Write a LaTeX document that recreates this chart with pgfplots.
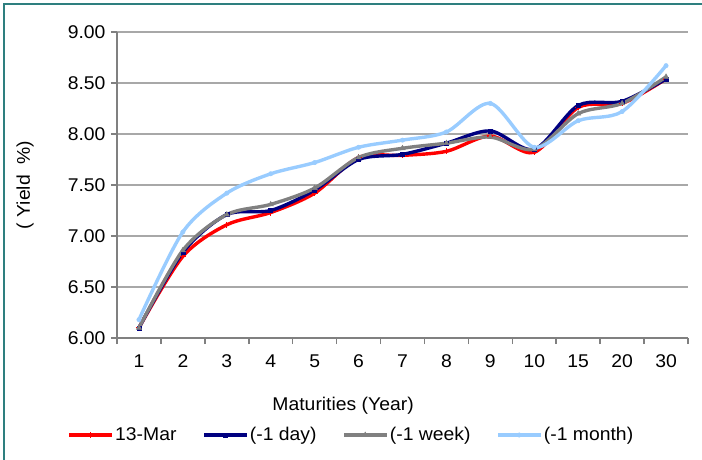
\documentclass[border=0pt]{standalone}
\usepackage{pgfplots}
\pgfplotsset{compat=1.18}
\usepackage{pgfplotstable}
\usepackage{fontspec}
\setmainfont{Liberation Sans}[FakeStretch=1.05]
\definecolor{cred}{HTML}{FF0000}
\definecolor{cnavy}{HTML}{000080}
\definecolor{cgray}{HTML}{808080}
\definecolor{clblue}{HTML}{99CCFF}
\definecolor{cframe}{HTML}{2E7F7F}
\definecolor{caxis}{HTML}{808080}
\definecolor{cgrid}{HTML}{A8A8A8}
\newcommand{\tf}{\fontsize{18.5}{22}\selectfont}
\pgfplotstableread{
x mar day week month
0  6.10 6.10 6.10 6.18
1  6.80 6.84 6.86 7.04
2  7.11 7.21 7.21 7.42
3  7.23 7.25 7.31 7.61
4  7.42 7.45 7.47 7.72
5  7.77 7.75 7.77 7.87
6  7.79 7.80 7.86 7.94
7  7.83 7.91 7.91 8.02
8  7.98 8.03 7.97 8.30
9  7.82 7.85 7.85 7.87
10 8.26 8.28 8.20 8.13
11 8.30 8.32 8.30 8.22
12 8.54 8.54 8.56 8.67
}\yields
\begin{document}
\begin{tikzpicture}
\path[use as bounding box] (-117bp,-122bp) rectangle (585bp,338bp);
\draw[cframe, line width=2bp] (-113bp,-122bp) -- (-113bp,334bp) -- (585bp,334bp);
\begin{axis}[
  at={(0,0)}, anchor=south west,
  scale only axis, width=571bp, height=306bp,
  xmin=-0.5, xmax=12.5, ymin=6, ymax=9,
  axis x line*=bottom, axis y line*=left,
  axis line style={caxis, line width=2bp, -},
  xtick={0,...,12},
  xticklabels={1,2,3,4,5,6,7,8,9,10,15,20,30},
  major x tick style={draw=none},
  minor xtick={-0.5,0.5,...,12.5},
  minor tick length=6bp,
  minor x tick style={caxis, line width=1.5bp},
  ytick={6,6.5,...,9},
  major tick length=6bp,
  major y tick style={caxis, line width=1.5bp},
  tick align=outside,
  ymajorgrids,
  grid style={cgrid, line width=1.5bp},
  /pgf/number format/assume math mode=true,
  yticklabel style={/pgf/number format/fixed, /pgf/number format/fixed zerofill, /pgf/number format/precision=2, font=\tf, xshift=-2bp},
  xticklabel style={font=\tf, yshift=-7bp},
  xlabel={Maturities (Year)},
  every axis x label/.style={at={(axis description cs:0.396,0)}, anchor=center, yshift=-68bp, font=\tf},
  ylabel={( Yield\ \ \%)},
  every axis y label/.style={at={(axis description cs:-0.161,0.5)}, anchor=center, rotate=90, font=\tf},
  legend columns=4,
  legend style={at={(axis description cs:0.4107,0)}, anchor=center, yshift=-97bp, draw=none, fill=none, font=\tf,
    /tikz/every even column/.append style={column sep=24bp}},
  legend image code/.code={\draw[mark repeat=2, mark phase=2] plot coordinates {(0bp,0bp)(21bp,0bp)(42bp,0bp)};},
  every axis plot/.append style={line width=3.4bp, smooth, tension=0.5},
  clip=false,
]
\addplot[cred, mark=+, mark size=3bp, mark options={solid, line width=1.2bp}] table[x=x, y=mar] {\yields};
\addlegendentry{13-Mar}
\addplot[cnavy, mark=square*, mark size=2bp, mark options={solid, line width=0.5bp}] table[x=x, y=day] {\yields};
\addlegendentry{(-1 day)}
\addplot[cgray, mark=triangle*, mark size=3bp, mark options={solid, line width=0.5bp}] table[x=x, y=week] {\yields};
\addlegendentry{(-1 week)}
\addplot[clblue, mark=*, mark size=2.2bp, mark options={solid, line width=0.5bp}] table[x=x, y=month] {\yields};
\addlegendentry{(-1 month)}
\end{axis}
\end{tikzpicture}
\end{document}
